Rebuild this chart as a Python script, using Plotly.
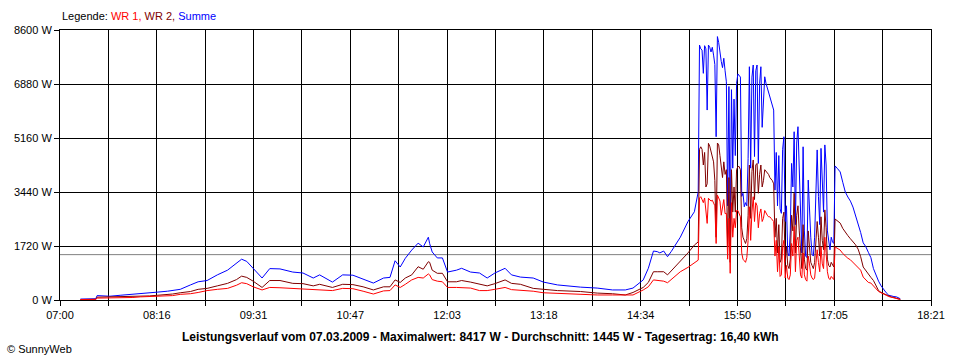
import plotly.graph_objects as go

# ---------------- data ----------------
# Morning / midday part (irregular sampling)
morning_times = [
    "07:16", "07:28", "07:29", "07:39", "07:47", "07:57", "08:03", "08:10", "08:16", "08:24",
    "08:28", "08:34", "08:42", "08:48", "08:55", "09:03", "09:11", "09:18", "09:22", "09:26",
    "09:31", "09:38", "09:44", "09:52", "10:02", "10:10", "10:18", "10:23", "10:33", "10:41",
    "10:49", "10:57", "11:05", "11:13", "11:18", "11:22", "11:26", "11:30", "11:35", "11:40",
    "11:44", "11:48", "11:49", "11:51", "11:55", "11:59", "12:01", "12:03", "12:10", "12:14",
    "12:21", "12:28", "12:34", "12:40", "12:48", "12:53", "13:00", "13:10", "13:18", "13:29",
    "13:47", "14:00", "14:12", "14:22", "14:28", "14:36", "14:40", "14:44", "14:47", "14:49",
    "14:52", "14:55", "14:58", "15:05", "15:11", "15:16",
]
morning_summe = [
    30, 40, 140, 120, 150, 190, 220, 230, 250, 280,
    300, 340, 480, 580, 620, 800, 950, 1170, 1300, 1230,
    1000, 700, 1000, 990, 890, 860, 700, 800, 570, 800,
    790, 670, 540, 700, 720, 1250, 1050, 1330, 1590, 1810,
    1690, 2000, 1800, 1530, 1340, 1340, 1110, 890, 950, 1010,
    890, 860, 700, 860, 1010, 800, 730, 700, 570, 480,
    410, 380, 320, 320, 380, 640, 1010, 1560, 1540, 1500,
    1560, 1380, 1550, 2000, 2500, 2810,
]
morning_wr2 = [
    15, 20, 90, 100, 90, 110, 120, 130, 150, 170,
    190, 230, 270, 340, 370, 450, 530, 650, 760, 720,
    600, 400, 620, 620, 530, 520, 450, 500, 400, 500,
    490, 420, 320, 420, 420, 640, 560, 700, 800, 1060,
    980, 1220, 1200, 950, 850, 850, 700, 580, 580, 620,
    570, 500, 450, 520, 640, 530, 500, 370, 340, 300,
    270, 220, 200, 160, 240, 400, 560, 900, 900, 900,
    900, 800, 930, 1220, 1500, 1750,
]
morning_wr1 = [
    15, 20, 60, 60, 70, 80, 100, 110, 110, 120,
    140, 180, 200, 240, 300, 340, 370, 470, 550, 520,
    420, 320, 400, 390, 370, 350, 320, 330, 300, 370,
    360, 280, 190, 290, 300, 480, 400, 500, 640, 720,
    700, 830, 800, 650, 600, 580, 480, 400, 400, 400,
    380, 300, 300, 340, 400, 330, 310, 280, 230, 210,
    190, 160, 160, 150, 160, 320, 420, 640, 620, 620,
    600, 550, 660, 900, 1040, 1200,
]

# Afternoon, fluctuating part (one sample per minute)
afternoon_times = [
    "15:19", "15:20", "15:21", "15:22", "15:23", "15:24", "15:25", "15:26", "15:27", "15:28",
    "15:29", "15:30", "15:31", "15:32", "15:33", "15:34", "15:35", "15:36", "15:37", "15:38",
    "15:39", "15:40", "15:41", "15:42", "15:43", "15:44", "15:45", "15:46", "15:47", "15:48",
    "15:49", "15:50", "15:51", "15:52", "15:53", "15:54", "15:55", "15:56", "15:57", "15:58",
    "15:59", "16:00", "16:01", "16:02", "16:03", "16:04", "16:05", "16:06", "16:07", "16:08",
    "16:09", "16:10", "16:11", "16:12", "16:13", "16:14", "16:15", "16:16", "16:17", "16:18",
    "16:19", "16:20", "16:21", "16:22", "16:23", "16:24", "16:25", "16:26", "16:27", "16:28",
    "16:29", "16:30", "16:31", "16:32", "16:33", "16:34", "16:35", "16:36", "16:37", "16:38",
    "16:39", "16:40", "16:41", "16:42", "16:43", "16:44", "16:45", "16:46", "16:47", "16:48",
    "16:49", "16:50", "16:51", "16:52", "16:53", "16:54", "16:55", "16:56", "16:57", "16:58",
    "16:59", "17:00", "17:01", "17:02", "17:03", "17:04", "17:05",
]
afternoon_summe = [
    3450, 8120, 8000, 7960, 7220, 8100, 8000, 6050, 8120, 8050,
    7900, 8050, 7800, 7500, 5200, 8390, 8200, 7800, 7600, 7400,
    7700, 7300, 6950, 3000, 6800, 1900, 6700, 4200, 6400, 4600,
    6900, 7200, 7150, 7100, 3300, 3400, 2970, 3100, 3000, 4500,
    7430, 4200, 7100, 7485, 4570, 7300, 7485, 4350, 6900, 7430,
    5500, 6200, 7110, 6900, 6750, 6600, 6450, 6300, 6200, 6050,
    3500, 4700, 3000, 4600, 2900, 2760, 4800, 5200, 2500, 3000,
    1500, 1400, 2200, 4350, 3600, 5360, 2400, 5000, 5520, 3900,
    2500, 1500, 4880, 2200, 1400, 1350, 3820, 2550, 2000, 1450,
    1400, 2000, 3600, 4780, 3300, 2400, 4830, 3600, 2800, 4940,
    4300, 2200, 1900, 1600, 2000, 1850, 1800,
]
afternoon_wr2 = [
    1850, 4800, 4880, 4800, 4300, 4700, 3600, 3700, 4990, 4900,
    4700, 4500, 4400, 3800, 2000, 5000, 4940, 4600, 4300, 3900,
    4400, 4000, 4150, 1700, 3900, 1200, 4150, 2800, 3600, 2800,
    4150, 4250, 4250, 4150, 2300, 2000, 1900, 1800, 1950, 2700,
    4300, 2600, 4100, 4460, 3200, 4300, 4350, 3400, 4000, 4300,
    3600, 3800, 4150, 4100, 4050, 4000, 3900, 3850, 3800, 3700,
    2000, 2600, 1500, 2400, 1200, 1300, 2600, 2800, 1200, 1700,
    1100, 1000, 1300, 2700, 2200, 3400, 1500, 2700, 3000, 2200,
    1400, 1000, 2400, 1300, 1000, 950, 2200, 1800, 1200, 1100,
    1000, 1200, 2100, 2500, 2000, 1400, 2650, 1900, 1600, 2870,
    2300, 1300, 1100, 1050, 1200, 1100, 1050,
]
afternoon_wr1 = [
    1270, 3250, 3290, 3200, 3100, 3250, 2800, 2440, 3240, 3200,
    3150, 3180, 3100, 3000, 1800, 3340, 3250, 3150, 2700, 2900,
    3200, 2750, 2760, 1300, 2600, 850, 3100, 2000, 2600, 2300,
    2850, 2850, 2750, 2650, 1500, 1300, 1250, 1200, 1350, 1900,
    2970, 1900, 2800, 3290, 2500, 3100, 3000, 2300, 2750, 2900,
    2500, 2600, 2850, 2750, 2700, 2650, 2650, 2600, 2550, 2500,
    1400, 1900, 900, 1700, 750, 800, 1700, 1900, 700, 1100,
    700, 650, 800, 1800, 1400, 2340, 900, 1900, 2000, 1400,
    800, 700, 1500, 800, 650, 600, 1400, 1150, 800, 700,
    650, 700, 1300, 1600, 1200, 900, 1700, 1150, 1000, 2000,
    1500, 900, 700, 650, 750, 700, 650,
]

# Evening decline
evening_times = [
    "17:06", "17:08", "17:10", "17:12", "17:14", "17:16", "17:18", "17:20", "17:22", "17:24",
    "17:26", "17:28", "17:30", "17:32", "17:34", "17:36", "17:38", "17:40", "17:42", "17:44",
    "17:46", "17:48", "17:50", "17:52", "17:54", "17:56", "17:57",
]
evening_summe = [
    4270, 4180, 4080, 3750, 3440, 3280, 3150, 2960, 2700, 2450,
    2150, 1820, 1700, 1520, 1350, 1000, 780, 600, 450, 330,
    230, 150, 120, 110, 100, 70, 40,
]
evening_wr2 = [
    2580, 2500, 2450, 2280, 2150, 2050, 1950, 1850, 1760, 1620,
    1380, 1050, 930, 800, 720, 620, 450, 300, 240, 200,
    160, 120, 95, 80, 60, 40, 20,
]
evening_wr1 = [
    1690, 1640, 1590, 1480, 1400, 1330, 1280, 1200, 1100, 1020,
    950, 730, 640, 560, 540, 460, 380, 270, 230, 180,
    150, 110, 85, 70, 55, 30, 15,
]

average_w = 1445
y_ticks = [0, 1720, 3440, 5160, 6880, 8600]
x_tick_labels = ["07:00", "08:16", "09:31", "10:47", "12:03", "13:18", "14:34", "15:50", "17:05", "18:21"]
legend_label = "Legende:"
series_names = ["WR 1", "WR 2", "Summe"]
title_text = ("Leistungsverlauf vom 07.03.2009 - Maximalwert: 8417 W - "
              "Durchschnitt: 1445 W - Tagesertrag: 16,40 kWh")
copyright_text = "© SunnyWeb"

# ---------------- build ----------------
def to_min(s):
    h, m = s.split(":")
    return int(h) * 60 + int(m)

times = morning_times + afternoon_times + evening_times
x = [to_min(t) for t in times]
summe = morning_summe + afternoon_summe + evening_summe
wr2 = morning_wr2 + afternoon_wr2 + evening_wr2
wr1 = morning_wr1 + afternoon_wr1 + evening_wr1

x0, x1 = to_min(x_tick_labels[0]), to_min(x_tick_labels[-1])
n_int = 2 * (len(x_tick_labels) - 1)
grid_vals = [x0 + k * (x1 - x0) / n_int for k in range(n_int + 1)]
grid_text = [x_tick_labels[k // 2] if k % 2 == 0 else "" for k in range(n_int + 1)]

C_WR1, C_WR2, C_SUM = "#FF0000", "#800000", "#0000FF"
FONT = "Liberation Sans, Arial, Helvetica, sans-serif"

fig = go.Figure()
fig.add_trace(go.Scatter(x=x, y=summe, mode="lines", name=series_names[2],
                         line=dict(color=C_SUM, width=1), hoverinfo="skip"))
fig.add_trace(go.Scatter(x=x, y=wr2, mode="lines", name=series_names[1],
                         line=dict(color=C_WR2, width=1), hoverinfo="skip"))
fig.add_trace(go.Scatter(x=x, y=wr1, mode="lines", name=series_names[0],
                         line=dict(color=C_WR1, width=1), hoverinfo="skip"))

fig.add_shape(type="line", xref="paper", x0=0, x1=1, yref="y", y0=average_w, y1=average_w,
              line=dict(color="#808080", width=1), layer="below")

axis_common = dict(showgrid=True, gridcolor="black", gridwidth=1, showline=True,
                   linecolor="black", linewidth=1, mirror=True, ticks="outside",
                   ticklen=5, tickcolor="black", tickwidth=1, zeroline=False,
                   tickfont=dict(family=FONT, size=11, color="black"))

fig.update_xaxes(range=[x0, x1], tickmode="array", tickvals=grid_vals, ticktext=grid_text,
                 **axis_common)
fig.update_yaxes(range=[y_ticks[0], y_ticks[-1]], tickmode="array", tickvals=y_ticks,
                 ticktext=[f"{v} W" for v in y_ticks], **axis_common)

legend_html = (f"{legend_label} <span style='color:{C_WR1}'>{series_names[0]},</span> "
               f"<span style='color:{C_WR2}'>{series_names[1]},</span> "
               f"<span style='color:{C_SUM}'>{series_names[2]}</span>")

fig.update_layout(
    width=960, height=360,
    margin=dict(l=60, r=29, t=30, b=60, pad=0),
    paper_bgcolor="white", plot_bgcolor="white",
    showlegend=False,
    font=dict(family=FONT, size=11, color="black"),
    annotations=[
        dict(text=legend_html, xref="paper", yref="paper", x=0, y=(300 - 16) / 270,
             xanchor="left", yanchor="middle", showarrow=False,
             font=dict(family=FONT, size=11, color="black")),
        dict(text=f"<b>{title_text}</b>", xref="paper", yref="paper",
             x=(480 - 60) / 871, y=(300 - 337) / 270, xanchor="center", yanchor="middle",
             showarrow=False, font=dict(family=FONT, size=12, color="black")),
        dict(text=copyright_text, xref="paper", yref="paper",
             x=(5 - 60) / 871, y=(300 - 349) / 270, xanchor="left", yanchor="middle",
             showarrow=False, font=dict(family=FONT, size=11, color="black")),
    ],
)

fig.write_html("out.html", config={"displayModeBar": False},
               post_script="document.body.style.margin='0px';document.body.style.overflow='hidden';")
